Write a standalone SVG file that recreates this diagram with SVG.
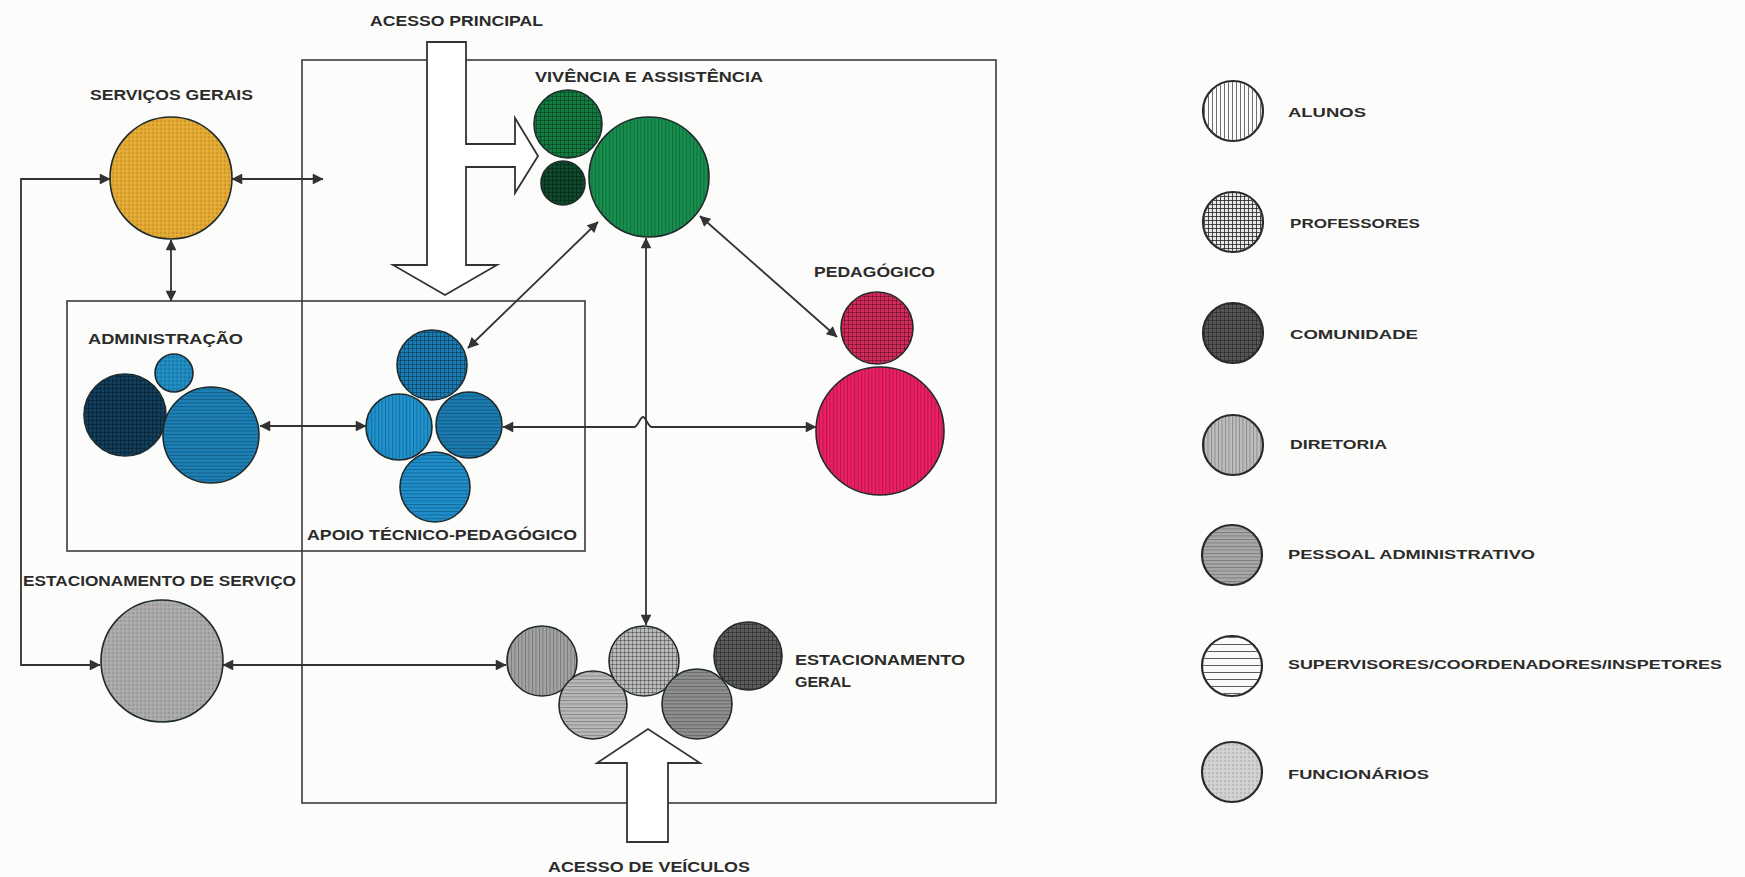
<svg xmlns="http://www.w3.org/2000/svg" width="1745" height="877" viewBox="0 0 1745 877">
<defs>
<style>
.t{font-family:"Liberation Sans","DejaVu Sans",sans-serif;font-weight:bold;font-size:14px;fill:#2b2b2b;}
.lg{font-family:"Liberation Sans","DejaVu Sans",sans-serif;font-weight:bold;font-size:13px;fill:#2b2b2b;}
.c{stroke:#1f2a2a;stroke-width:1.6;}
.lc{stroke:#2a2a2a;stroke-width:2.2;}
.conn{fill:none;stroke:#333;stroke-width:1.8;marker-start:url(#ah);marker-end:url(#ah);}
.frame{fill:none;stroke:#3a3a3a;stroke-width:1.6;}
.big{fill:#fff;stroke:#333;stroke-width:1.8;stroke-linejoin:miter;}
</style>
<marker id="ah" viewBox="0 0 10 10" refX="9.5" refY="5" markerWidth="6.5" markerHeight="6" orient="auto-start-reverse" markerUnits="strokeWidth">
<path d="M0,0 L10,5 L0,10 Z" fill="#333"/>
</marker>
<pattern id="vl" width="3.5" height="10" patternUnits="userSpaceOnUse"><line x1="0.5" y1="0" x2="0.5" y2="10" stroke="#000" stroke-opacity="0.28" stroke-width="0.9"/></pattern>
<pattern id="hl" width="10" height="3.5" patternUnits="userSpaceOnUse"><line x1="0" y1="0.5" x2="10" y2="0.5" stroke="#000" stroke-opacity="0.28" stroke-width="0.9"/></pattern>
<pattern id="xh" width="4" height="4" patternUnits="userSpaceOnUse"><path d="M0.5,0 V4 M0,0.5 H4" stroke="#000" stroke-opacity="0.35" stroke-width="0.9"/></pattern>
<pattern id="dt" width="4" height="4" patternUnits="userSpaceOnUse"><circle cx="1" cy="1" r="0.7" fill="#000" fill-opacity="0.25"/><circle cx="3" cy="3" r="0.6" fill="#fff" fill-opacity="0.35"/></pattern>
<pattern id="lvl" width="4" height="10" patternUnits="userSpaceOnUse"><line x1="0.5" y1="0" x2="0.5" y2="10" stroke="#333" stroke-width="0.7"/></pattern>
<pattern id="lxh" width="4" height="4" patternUnits="userSpaceOnUse"><path d="M0.5,0 V4 M0,0.5 H4" stroke="#222" stroke-width="0.8"/></pattern>
<pattern id="lhs" width="10" height="7" patternUnits="userSpaceOnUse"><line x1="0" y1="0.5" x2="10" y2="0.5" stroke="#333" stroke-width="0.8"/></pattern>
</defs>
<rect width="1745" height="877" fill="#fcfcfa"/>

<g id="frames">
<rect class="frame" x="302" y="60" width="694" height="743"/>
<rect class="frame" x="67" y="301" width="518" height="250"/>
</g>

<g id="connectors">
<path class="conn" d="M110,179 H21 V665 H100"/>
<path class="conn" d="M232,179 H323"/>
<path class="conn" d="M171,240 V301"/>
<path class="conn" d="M260,426 H366"/>
<path class="conn" d="M503,427 H634 C638,427 640,417 643,417 C646,417 648,427 652,427 H816"/>
<path class="conn" d="M468,348 L598,222"/>
<path class="conn" d="M700,216 L837,337"/>
<path class="conn" d="M646,238 V625"/>
<path class="conn" d="M223,665 H506"/>
</g>

<g id="acesso-principal">
<path class="big" d="M427,42 H466 V144 H515 V118 L538,156 L515,193 V167 H466 V265 H497 L445,295 L393,265 H427 Z"/>
<text class="t" x="370" y="26" textLength="173" lengthAdjust="spacingAndGlyphs">ACESSO PRINCIPAL</text>
</g>

<g id="acesso-veiculos">
<path class="big" d="M627,842 H668 V763 H700 L648,729 L597,763 H627 Z"/>
<text class="t" x="548" y="872" textLength="202" lengthAdjust="spacingAndGlyphs">ACESSO DE VEÍCULOS</text>
</g>

<g id="servicos-gerais">
<text class="t" x="90" y="100" textLength="163" lengthAdjust="spacingAndGlyphs">SERVIÇOS GERAIS</text>
<circle class="c" cx="171" cy="178" r="61" fill="#e2a72f"/>
<circle cx="171" cy="178" r="60" fill="url(#dt)"/>
</g>

<g id="vivencia">
<text class="t" x="535" y="82" textLength="228" lengthAdjust="spacingAndGlyphs">VIVÊNCIA E ASSISTÊNCIA</text>
<circle class="c" cx="568" cy="124" r="34" fill="#137c42"/>
<circle cx="568" cy="124" r="33" fill="url(#xh)"/>
<circle class="c" cx="563" cy="183" r="22" fill="#0f4a2c"/>
<circle cx="563" cy="183" r="21" fill="url(#xh)"/>
<circle class="c" cx="649" cy="177" r="60" fill="#17904e"/>
<circle cx="649" cy="177" r="59" fill="url(#vl)"/>
</g>

<g id="administracao">
<text class="t" x="88" y="344" textLength="155" lengthAdjust="spacingAndGlyphs">ADMINISTRAÇÃO</text>
<circle class="c" cx="174" cy="373" r="19" fill="#1a88bd"/>
<circle cx="174" cy="373" r="18" fill="url(#dt)"/>
<circle class="c" cx="125" cy="415" r="41" fill="#123f5e"/>
<circle cx="125" cy="415" r="40" fill="url(#xh)"/>
<circle class="c" cx="211" cy="435" r="48" fill="#1c80b6"/>
<circle cx="211" cy="435" r="47" fill="url(#hl)"/>
</g>

<g id="apoio-tecnico">
<circle class="c" cx="432" cy="365" r="35" fill="#1a7cb2"/>
<circle cx="432" cy="365" r="34" fill="url(#xh)"/>
<circle class="c" cx="399" cy="427" r="33" fill="#1e93cf"/>
<circle cx="399" cy="427" r="32" fill="url(#vl)"/>
<circle class="c" cx="469" cy="425" r="33" fill="#1b7bb0"/>
<circle cx="469" cy="425" r="32" fill="url(#hl)"/>
<circle class="c" cx="435" cy="487" r="35" fill="#1e8ecb"/>
<circle cx="435" cy="487" r="34" fill="url(#hl)"/>
<text class="t" x="307" y="540" textLength="270" lengthAdjust="spacingAndGlyphs">APOIO TÉCNICO-PEDAGÓGICO</text>
</g>

<g id="pedagogico">
<text class="t" x="814" y="277" textLength="121" lengthAdjust="spacingAndGlyphs">PEDAGÓGICO</text>
<circle class="c" cx="877" cy="328" r="36" fill="#d42a5c"/>
<circle cx="877" cy="328" r="35" fill="url(#xh)"/>
<circle class="c" cx="880" cy="431" r="64" fill="#ee1f64"/>
<circle cx="880" cy="431" r="63" fill="url(#vl)"/>
</g>

<g id="estacionamento-servico">
<text class="t" x="23" y="586" textLength="273" lengthAdjust="spacingAndGlyphs">ESTACIONAMENTO DE SERVIÇO</text>
<circle class="c" cx="162" cy="661" r="61" fill="#a9a9a9"/>
<circle cx="162" cy="661" r="60" fill="url(#dt)"/>
</g>

<g id="estacionamento-geral">
<circle class="c" cx="542" cy="661" r="35" fill="#a3a3a3"/>
<circle cx="542" cy="661" r="34" fill="url(#vl)"/>
<circle class="c" cx="593" cy="705" r="34" fill="#b8b8b8"/>
<circle cx="593" cy="705" r="33" fill="url(#hl)"/>
<circle class="c" cx="644" cy="661" r="35" fill="#bababa"/>
<circle cx="644" cy="661" r="34" fill="url(#xh)"/>
<circle class="c" cx="697" cy="704" r="35" fill="#8e8e8e"/>
<circle cx="697" cy="704" r="34" fill="url(#hl)"/>
<circle class="c" cx="748" cy="656" r="34" fill="#5c5c5c"/>
<circle cx="748" cy="656" r="33" fill="url(#xh)"/>
<text class="t" x="795" y="665" textLength="170" lengthAdjust="spacingAndGlyphs">ESTACIONAMENTO</text>
<text class="t" x="795" y="687" textLength="56" lengthAdjust="spacingAndGlyphs">GERAL</text>
</g>

<g id="legend-alunos">
<circle class="lc" cx="1233" cy="111" r="30" fill="#fafafa"/>
<circle cx="1233" cy="111" r="29" fill="url(#lvl)"/>
<text class="lg" x="1288" y="117" textLength="78" lengthAdjust="spacingAndGlyphs">ALUNOS</text>
</g>
<g id="legend-professores">
<circle class="lc" cx="1233" cy="222" r="30" fill="#e8e8e8"/>
<circle cx="1233" cy="222" r="29" fill="url(#lxh)"/>
<text class="lg" x="1290" y="228" textLength="130" lengthAdjust="spacingAndGlyphs">PROFESSORES</text>
</g>
<g id="legend-comunidade">
<circle class="lc" cx="1233" cy="333" r="30" fill="#555"/>
<circle cx="1233" cy="333" r="29" fill="url(#xh)"/>
<text class="lg" x="1290" y="339" textLength="128" lengthAdjust="spacingAndGlyphs">COMUNIDADE</text>
</g>
<g id="legend-diretoria">
<circle class="lc" cx="1233" cy="445" r="30" fill="#bdbdbd"/>
<circle cx="1233" cy="445" r="29" fill="url(#vl)"/>
<text class="lg" x="1290" y="449" textLength="97" lengthAdjust="spacingAndGlyphs">DIRETORIA</text>
</g>
<g id="legend-pessoal">
<circle class="lc" cx="1232" cy="555" r="30" fill="#a8a8a8"/>
<circle cx="1232" cy="555" r="29" fill="url(#hl)"/>
<text class="lg" x="1288" y="559" textLength="247" lengthAdjust="spacingAndGlyphs">PESSOAL ADMINISTRATIVO</text>
</g>
<g id="legend-supervisores">
<circle class="lc" cx="1232" cy="666" r="30" fill="#fafafa"/>
<circle cx="1232" cy="666" r="29" fill="url(#lhs)"/>
<text class="lg" x="1288" y="669" textLength="434" lengthAdjust="spacingAndGlyphs">SUPERVISORES/COORDENADORES/INSPETORES</text>
</g>
<g id="legend-funcionarios">
<circle class="lc" cx="1232" cy="772" r="30" fill="#cfcfcf"/>
<circle cx="1232" cy="772" r="29" fill="url(#dt)"/>
<text class="lg" x="1288" y="779" textLength="141" lengthAdjust="spacingAndGlyphs">FUNCIONÁRIOS</text>
</g>
</svg>
